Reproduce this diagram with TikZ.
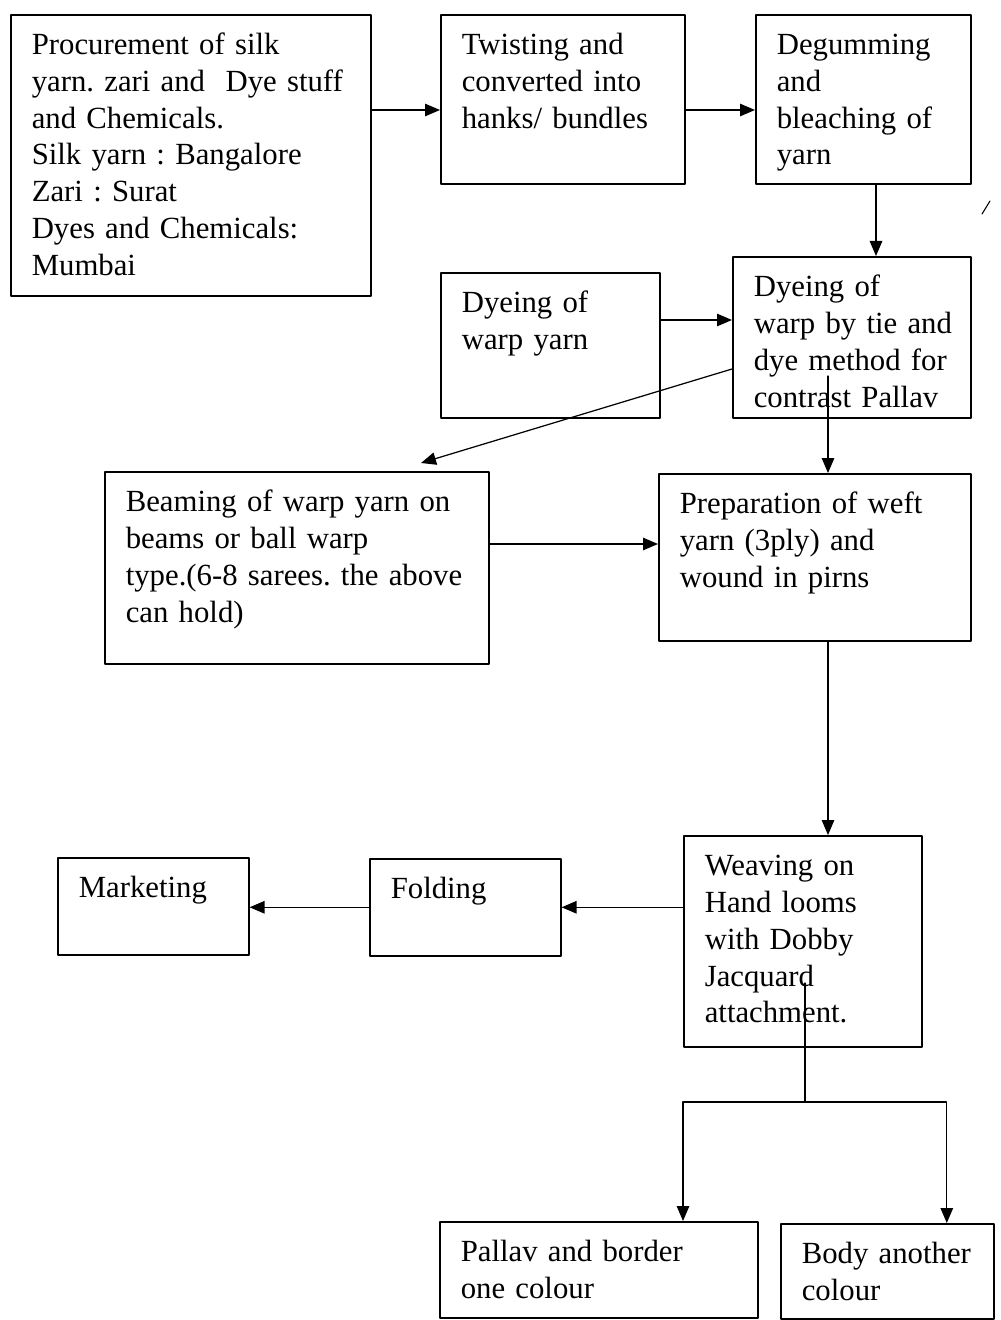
\documentclass[tikz,border=0pt]{standalone}
\usepackage{fontspec}
\setmainfont{Liberation Serif}
\usepackage{tikz}
\usetikzlibrary{arrows.meta}
\newcommand{\stagefont}{\fontsize{17.5}{21}\selectfont}
\frenchspacing

\begin{document}
\begin{tikzpicture}[line cap=round,line join=round,x=0.2mm,y=-0.2mm,
    >={Triangle[length=3mm,width=2.5mm]},
    stage/.style={draw,line width=0.9pt,anchor=north west,align=left,inner xsep=4.2mm,inner ysep=0pt,text height=7.9mm,font=\stagefont},
    flow/.style={->,line width=0.7pt}]
        \useasboundingbox (0,0) rectangle (1000,1320);
        % boxes
        \node[stage,text width=63.6mm,text depth=48.3mm] (procure) at (10,14) {Procurement of silk\\yarn. zari and~ Dye stuff\\and Chemicals.\\Silk yarn : Bangalore\\Zari : Surat\\Dyes and Chemicals:\\Mumbai};
        \node[stage,text width=40.4mm,text depth=25.9mm] (twist) at (440,14) {Twisting and\\converted into\\hanks/ bundles};
        \node[stage,text width=34.6mm,text depth=25.9mm] (degum) at (755,14) {Degumming\\and\\bleaching~of\\yarn};
        \node[stage,text width=35.4mm,text depth=21.1mm] (warpdye) at (440,272) {Dyeing of\\warp yarn};
        \node[stage,text width=39.2mm,text depth=24.3mm] (tiedye) at (732,256) {Dyeing of\\warp~by~tie~and\\dye~method~for\\contrast~Pallav};
        \node[stage,text width=68.4mm,text depth=30.5mm] (beam) at (104,471) {Beaming of warp yarn on\\beams or ball warp\\type.(6-8~sarees.~the~above\\can hold)};
        \node[stage,text width=54mm,text depth=25.5mm] (prep) at (658,473) {Preparation of weft\\yarn (3ply) and\\wound in pirns};
        \node[stage,text width=39.2mm,text depth=34.3mm] (weave) at (683,835) {Weaving on\\Hand looms\\with Dobby\\Jacquard\\attachment.};
        \node[stage,text width=29.8mm,text depth=11.5mm] (fold) at (369,858) {Folding};
        \node[stage,text width=29.8mm,text depth=11.5mm] (market) at (57,857) {Marketing};
        \node[stage,text width=55.2mm,text depth=11.3mm] (pallav) at (439,1221) {Pallav and border\\one colour};
        \node[stage,text width=34.2mm,text depth=11.1mm] (body) at (780,1223) {Body~another\\colour};
        % connectors
        \coordinate (beamin) at (421,463);
        \coordinate (tieout) at (828,376);
        \coordinate (weaveout) at (805,983);
        \coordinate (split) at (805,1102);
        \draw[flow] (procure.east |- 0,110) -- (twist.west |- 0,110);
        \draw[flow] (twist.east |- 0,110) -- (degum.west |- 0,110);
        \draw[flow] (degum.south -| 876,0) -- (tiedye.north -| 876,0);
        \draw[flow] (warpdye.east |- 0,320) -- (tiedye.west |- 0,320);
        \draw[flow] (tiedye.west |- 0,369) -- (beamin);
        \draw[flow] (tieout) -- (prep.north -| tieout);
        \draw[flow] (beam.east |- 0,544) -- (prep.west |- 0,544);
        \draw[flow] (prep.south -| tieout) -- (weave.north -| tieout);
        \draw[flow] (weave.west |- fold.east) -- (fold.east);
        \draw[flow] (fold.west) -- (market.east |- fold.west);
        \draw[line width=0.7pt] (weaveout) -- (split);
        \draw[flow] (split) -| (pallav.north -| weave.west);
        \draw[flow] (split) -| ([xshift=11.9mm]body.north);
        % stray mark
        \draw[line width=0.6pt] (982,214) -- (990,201);
\end{tikzpicture}
\end{document}
